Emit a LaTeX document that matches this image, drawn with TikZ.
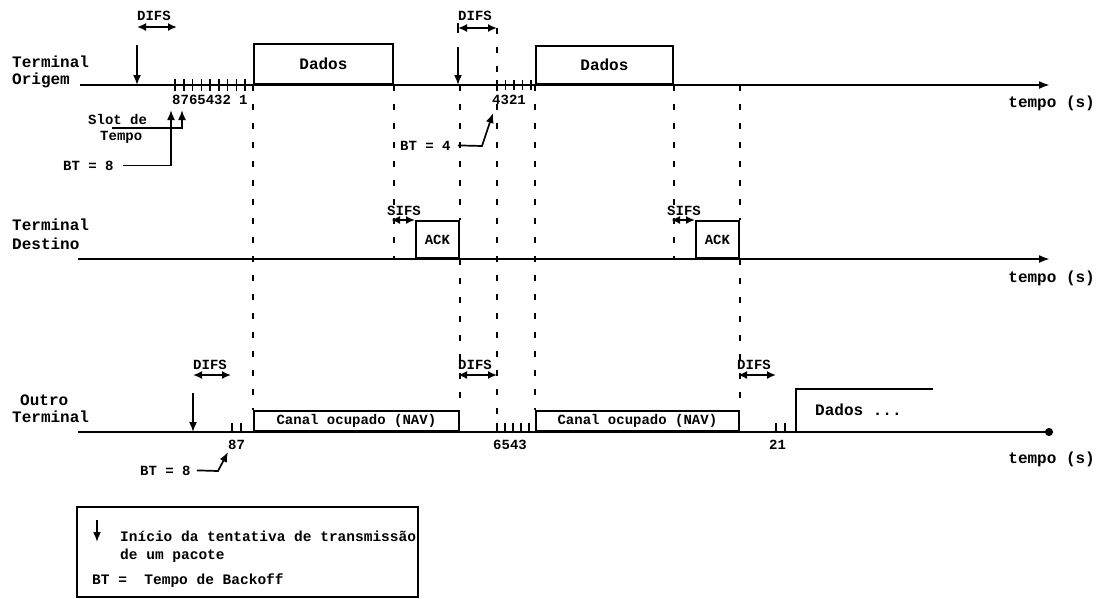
\documentclass[tikz,border=0pt]{standalone}
\usepackage{fontspec}
\setmainfont{Liberation Mono}
\usetikzlibrary{arrows.meta}
\begin{document}
\begin{tikzpicture}[x=1pt,y=-1pt]
		% Estilos
		\tikzstyle{eixo}=[-{Latex[length=11pt,width=8pt]},line width=2pt]
		\tikzstyle{caixa}=[draw,line width=1.8pt,inner sep=0pt,anchor=south west]
		\tikzstyle{seta}=[-{Latex[length=10pt,width=8pt]},line width=1.7pt]
		\tikzstyle{intervalo}=[{Latex[length=9pt,width=8pt]}-{Latex[length=9pt,width=8pt]},line width=1.7pt]
		\tikzstyle{tracejado}=[line width=2pt,dash pattern=on 6pt off 13pt]
		\tikzstyle{marca}=[line width=1.5pt]
		\tikzstyle{rotulo}=[inner sep=0pt,font=\fontsize{16}{17}\selectfont\bfseries]
		\tikzstyle{texto}=[inner sep=0pt,font=\fontsize{14}{15}\selectfont\bfseries]
		% Dimensoes
		\def\LinhaA{85}
		\def\LinhaB{259}
		\def\LinhaC{432}
		\useasboundingbox (0,0) rectangle (1099,598);
		% Terminal origem
		\node[rotulo,anchor=base west] (origemA) at (12,67) {Terminal};
		\node[rotulo,anchor=base west] (origemB) at (12,84) {Origem};
		\coordinate (eixoA0) at (80,\LinhaA);
		\coordinate (eixoA1) at (1050,\LinhaA);
		\draw[eixo] (eixoA0)--(eixoA1);
		\node[rotulo,anchor=base east] (tempoA) at (1095,107) {tempo (s)};
		\node[caixa,rotulo,minimum width=139pt,minimum height=40pt] (dadosA) at (253,\LinhaA) {Dados};
		\node[caixa,rotulo,minimum width=137pt,minimum height=38pt] (dadosB) at (535,\LinhaA) {Dados};
		\foreach \k in {0,...,8} \draw[marca] ({175+\k*8.75},79)--({175+\k*8.75},91);
		\foreach \k in {0,...,4} \draw[marca] ({497+\k*8.5},80)--({497+\k*8.5},90);
		\node[texto,anchor=base west] (slotsA) at (172,104) {8765432};
		\node[texto,anchor=base west] (slotsB) at (239,104) {1};
		\node[texto,anchor=base west] (slotsC) at (492,104) {4321};
		% DIFS e inicio (origem)
		\coordinate (inicioA0) at (137,45);
		\coordinate (inicioA1) at (137,\LinhaA);
		\draw[seta] (inicioA0)--(inicioA1);
		\coordinate (difsA0) at (137,27);
		\coordinate (difsA1) at (177,27);
		\draw[intervalo] (difsA0)--(difsA1);
		\node[texto,anchor=base] (difsA) at (154,20) {DIFS};
		\coordinate (inicioB0) at (458,47);
		\coordinate (inicioB1) at (458,\LinhaA);
		\draw[seta] (inicioB0)--(inicioB1);
		\coordinate (difsB0) at (458,28);
		\coordinate (difsB1) at (497,28);
		\draw[intervalo] (difsB0)--(difsB1);
		\draw[marca] (458,23)--(458,33);
		\node[texto,anchor=base] (difsB) at (475,20) {DIFS};
		% Backoff (origem)
		\node[texto,anchor=base west] (slotA) at (88,124) {Slot de};
		\node[texto,anchor=base west] (slotB) at (100,140) {Tempo};
		\coordinate (slotA0) at (112,128);
		\coordinate (alvoSlot) at (182,110);
		\draw[seta] (slotA0)-|(alvoSlot);
		\node[texto,anchor=base west] (btA) at (63,170) {BT = 8};
		\coordinate (alvoBtA) at (171,110);
		\draw[seta] ([xshift=9pt]btA.east)-|(alvoBtA);
		\node[texto,anchor=base west] (btB) at (400,150) {BT = 4};
		\coordinate (dobraBtB) at (482,146);
		\coordinate (alvoBtB) at (493,113);
		\draw[seta] ([xshift=7pt]btB.east)--(dobraBtB)--(alvoBtB);
		% Terminal destino
		\node[rotulo,anchor=base west] (destinoA) at (12,230) {Terminal};
		\node[rotulo,anchor=base west] (destinoB) at (12,249) {Destino};
		\coordinate (eixoB0) at (78,\LinhaB);
		\coordinate (eixoB1) at (1050,\LinhaB);
		\draw[eixo] (eixoB0)--(eixoB1);
		\node[rotulo,anchor=base east] (tempoB) at (1095,282) {tempo (s)};
		\node[caixa,texto,minimum width=43pt,minimum height=37pt] (ackA) at (415,\LinhaB) {ACK};
		\node[caixa,texto,minimum width=43pt,minimum height=37pt] (ackB) at (695,\LinhaB) {ACK};
		\coordinate (sifsA0) at (391,220);
		\coordinate (sifsA1) at (415,220);
		\draw[intervalo] (sifsA0)--(sifsA1);
		\node[texto,anchor=base] (sifsA) at (404,215) {SIFS};
		\coordinate (sifsB0) at (671,220);
		\coordinate (sifsB1) at (695,220);
		\draw[intervalo] (sifsB0)--(sifsB1);
		\node[texto,anchor=base] (sifsB) at (684,215) {SIFS};
		% Outro terminal
		\node[rotulo,anchor=base west] (outroA) at (20,405) {Outro};
		\node[rotulo,anchor=base west] (outroB) at (12,422) {Terminal};
		\coordinate (eixoC0) at (78,\LinhaC);
		\coordinate (eixoC1) at (1053,\LinhaC);
		\draw[line width=2pt,-{Circle[length=8pt]}] (eixoC0)--(eixoC1);
		\node[rotulo,anchor=base east] (tempoC) at (1095,463) {tempo (s)};
		\node[caixa,texto,minimum width=205pt,minimum height=20pt] (canalA) at (253,\LinhaC) {Canal ocupado (NAV)};
		\node[caixa,texto,minimum width=203pt,minimum height=20pt] (canalB) at (535,\LinhaC) {Canal ocupado (NAV)};
		\draw[line width=1.8pt] (796,\LinhaC)|-(933,389);
		\node[rotulo,anchor=base west] (dadosC) at (815,415) {Dados ...};
		\foreach \x in {232,241,497,505,513,521,529,776,785} \draw[marca] (\x,423)--(\x,\LinhaC);
		\node[texto,anchor=base west] (slotsD) at (228,449) {87};
		\node[texto,anchor=base west] (slotsE) at (493,449) {6543};
		\node[texto,anchor=base west] (slotsF) at (769,449) {21};
		\coordinate (inicioC0) at (193,393);
		\coordinate (inicioC1) at (193,\LinhaC);
		\draw[seta] (inicioC0)--(inicioC1);
		\coordinate (difsC0) at (193,375);
		\coordinate (difsC1) at (231,375);
		\draw[intervalo] (difsC0)--(difsC1);
		\node[texto,anchor=base] (difsC) at (210,369) {DIFS};
		\coordinate (difsD0) at (458,375);
		\coordinate (difsD1) at (497,375);
		\draw[intervalo] (difsD0)--(difsD1);
		\node[texto,anchor=base] (difsD) at (475,369) {DIFS};
		\coordinate (difsE0) at (738,375);
		\coordinate (difsE1) at (776,375);
		\draw[intervalo] (difsE0)--(difsE1);
		\node[texto,anchor=base] (difsE) at (754,369) {DIFS};
		\node[texto,anchor=base west] (btC) at (140,475) {BT = 8};
		\coordinate (dobraBtC) at (218,471);
		\coordinate (alvoBtC) at (228,452);
		\draw[seta] ([xshift=6pt]btC.east)--(dobraBtC)--(alvoBtC);
		% Linhas tracejadas
		\draw[tracejado] (dadosA.south west)--(canalA.north west);
		\draw[tracejado] (dadosA.south east)--(dadosA.south east |- ackA.south);
		\draw[tracejado] (ackA.north east |- dadosA.south)--(ackA.north east);
		\draw[tracejado] (ackA.south east)--(canalA.north east);
		\draw[tracejado] (difsB1)--(difsB1 |- canalA.south);
		\draw[tracejado] (dadosB.south west)--(canalB.north west);
		\draw[tracejado] (dadosB.south east)--(dadosB.south east |- ackB.south);
		\draw[tracejado] (ackB.north east |- dadosB.south)--(ackB.north east);
		\draw[tracejado] (ackB.south east)--(canalB.north east);
		% Legenda
		\draw[line width=1.8pt] (77,507) rectangle (418,597);
		\coordinate (legendaA0) at (97,520);
		\coordinate (legendaA1) at (97,542);
		\draw[seta] (legendaA0)--(legendaA1);
		\node[texto,font=\fontsize{14.5}{15}\selectfont\bfseries,anchor=base west] (legendaA) at (120,541) {Início da tentativa de transmissão};
		\node[texto,font=\fontsize{14.5}{15}\selectfont\bfseries,anchor=base west] (legendaB) at (120,559) {de um pacote};
		\node[texto,font=\fontsize{14.5}{15}\selectfont\bfseries,anchor=base west] (legendaC) at (92,584) {BT = \ Tempo de Backoff};
	\end{tikzpicture}
\end{document}
